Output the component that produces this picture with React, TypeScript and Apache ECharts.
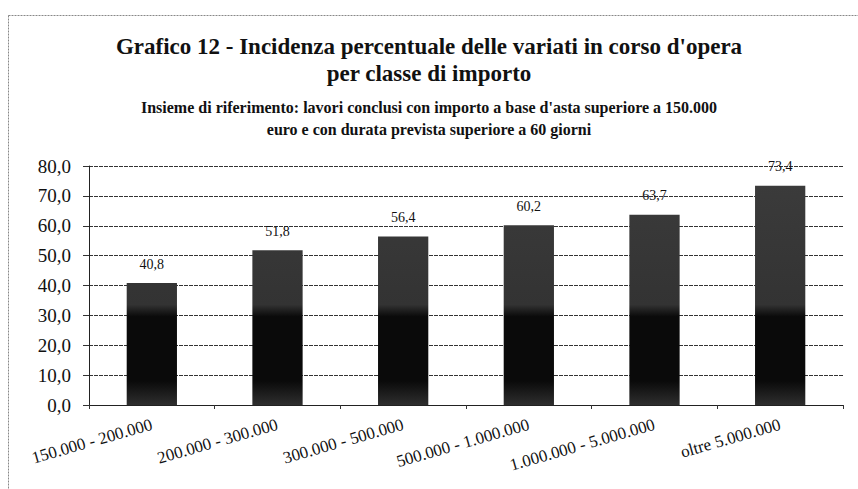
import React, { useEffect, useRef } from "react";
import * as echarts from "echarts";

const categories = [
  "150.000 - 200.000",
  "200.000 - 300.000",
  "300.000 - 500.000",
  "500.000 - 1.000.000",
  "1.000.000 - 5.000.000",
  "oltre 5.000.000",
];
const values = [40.8, 51.8, 56.4, 60.2, 63.7, 73.4];

const titleLines = [
  "Grafico 12 - Incidenza percentuale delle variati in corso d'opera",
  "per classe di importo",
];
const subtitleLines = [
  "Insieme di riferimento: lavori conclusi con importo a base d'asta superiore a 150.000",
  "euro e con durata prevista superiore a 60 giorni",
];

const fmt = (v: number) => v.toFixed(1).replace(".", ",");
const SERIF = "'Liberation Serif', 'DejaVu Serif', serif";

export default function App() {
  const ref = useRef<HTMLDivElement>(null);
  useEffect(() => {
    if (!ref.current) return;
    const chart = echarts.init(ref.current, undefined, { renderer: "svg" });
    chart.setOption({
      animation: false,
      backgroundColor: "#ffffff",
      textStyle: { fontFamily: SERIF },
      title: [
        {
          text: titleLines.join("\n"),
          left: "center",
          top: 28,
          textStyle: {
            fontFamily: SERIF,
            fontSize: 23,
            fontWeight: "bold",
            color: "#111",
            lineHeight: 27,
          },
        },
        {
          text: subtitleLines.join("\n"),
          left: "center",
          top: 91,
          textStyle: {
            fontFamily: SERIF,
            fontSize: 16,
            fontWeight: "bold",
            color: "#111",
            lineHeight: 22,
          },
        },
      ],
      graphic: [
        {
          type: "rect",
          shape: { x: 8.5, y: 15.5, width: 856, height: 480 },
          style: { fill: "none", stroke: "#888", lineWidth: 1, lineDash: [2, 1] },
          silent: true,
        },
      ],
      grid: { left: 89, right: 15, top: 166, bottom: 84, containLabel: false },
      xAxis: {
        type: "category",
        data: categories,
        axisLine: { show: true, lineStyle: { color: "#222", width: 1 } },
        axisTick: { show: true, length: 4, alignWithLabel: false, lineStyle: { color: "#333" } },
        axisLabel: {
          rotate: 16,
          interval: 0,
          fontFamily: SERIF,
          fontSize: 17,
          color: "#111",
          margin: 19,
        },
      },
      yAxis: {
        type: "value",
        min: 0,
        max: 80,
        interval: 10,
        axisLine: { show: true, lineStyle: { color: "#222", width: 1 } },
        axisTick: { show: true, length: 6, lineStyle: { color: "#333" } },
        splitLine: { show: true, lineStyle: { color: "#333", width: 1, type: [4, 1] } },
        axisLabel: {
          formatter: (v: number) => fmt(v),
          fontFamily: SERIF,
          fontSize: 19,
          color: "#111",
          margin: 18,
        },
      },
      series: [
        {
          type: "bar",
          data: values,
          barWidth: "40%",
          itemStyle: {
            color: new echarts.graphic.LinearGradient(
              0,
              166,
              0,
              405,
              [
                { offset: 0, color: "#3c3c3c" },
                { offset: 0.58, color: "#333333" },
                { offset: 0.63, color: "#0a0a0a" },
                { offset: 0.9, color: "#0a0a0a" },
                { offset: 1, color: "#2e2e2e" },
              ],
              true
            ),
          },
          label: {
            show: true,
            position: "top",
            distance: 12,
            formatter: (p: any) => fmt(p.value),
            fontFamily: SERIF,
            fontSize: 14,
            color: "#111",
          },
        },
      ],
    });
    return () => chart.dispose();
  }, []);
  return (
    <div
      ref={ref}
      style={{ position: "fixed", left: 0, top: 0, width: 858, height: 489, background: "#fff" }}
    />
  );
}
